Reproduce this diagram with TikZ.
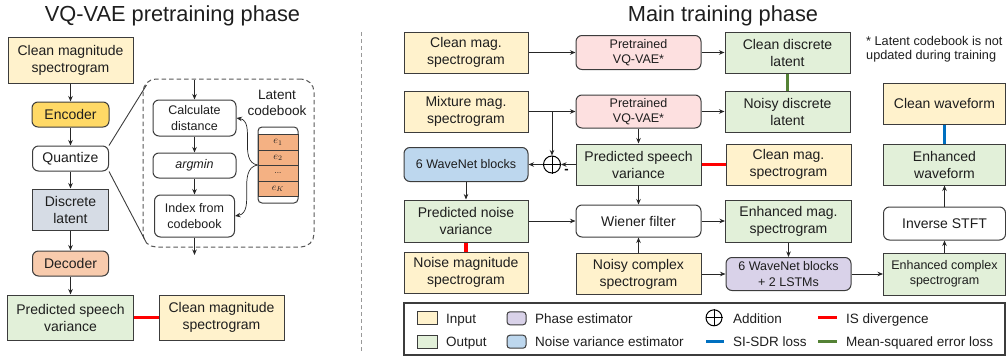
\documentclass[tikz,border=0pt]{standalone}
\usepackage{fontspec}
\setmainfont{Liberation Sans}
\usetikzlibrary{arrows.meta,calc}
\definecolor{cin}{HTML}{FFF2CC}
\definecolor{cout}{HTML}{E2F0D9}
\definecolor{cenc}{HTML}{FFD966}
\definecolor{clat}{HTML}{D6DCE5}
\definecolor{cdec}{HTML}{F8CBAD}
\definecolor{cpink}{HTML}{FDE0E0}
\definecolor{cblue}{HTML}{BDD7EE}
\definecolor{cpurp}{HTML}{D9D2E9}
\definecolor{ccell}{HTML}{F4B183}
\definecolor{cbord}{HTML}{3C3C3C}
\definecolor{lred}{HTML}{FF0000}
\definecolor{lblue}{HTML}{0070C0}
\definecolor{lgreen}{HTML}{548235}
\definecolor{ctext}{HTML}{1E1E1E}
\tikzset{
  box/.style={draw=cbord, line width=1pt, align=center, inner sep=0pt, text=ctext,
    font=\fontsize{14}{17}\selectfont},
  rbox/.style={box, rounded corners=6pt},
  small/.style={font=\fontsize{12.5}{15.5}\selectfont},
  sz/.style 2 args={minimum width=#1, minimum height=#2},
  arr/.style={-{Stealth[length=5.5pt,width=4.5pt]}, line width=0.8pt, draw=black!85},
  loss/.style={line width=3.6pt},
  legloss/.style={line width=3pt},
  cell/.style={draw=cbord, line width=1pt, fill=ccell, minimum width=40, minimum height=15.6,
    inner sep=0pt, text=ctext, font=\fontsize{10}{10}\selectfont},
  legtxt/.style={anchor=base west, inner sep=0pt, text=ctext, font=\fontsize{13.5}{15}\selectfont},
  title/.style={anchor=base, inner sep=0pt, text=ctext, font=\fontsize{21.8}{24}\selectfont},
}
\begin{document}
\begin{tikzpicture}[x=1pt,y=-1pt]
\useasboundingbox (0,0) rectangle (1006,359);
% titles
\node[title] (t1) at (172.5,21) {VQ-VAE pretraining phase};
\node[title] (t2) at (723,21) {Main training phase};
% separator
\coordinate (sepa) at (361,32);
\coordinate (sepb) at (361,353);
\draw[gray!80, line width=0.9pt, dash pattern=on 4pt off 3pt] (sepa) -- (sepb);

% ---------------- left panel ----------------
\node[box, fill=cin, sz={125}{46}] (lcms) at (70.5,60) {Clean magnitude\\spectrogram};
\node[rbox, fill=cenc, sz={77}{25}] (enc) at (70.5,114.5) {Encoder};
\node[rbox, fill=white, sz={76}{25}] (quant) at (70.5,158.5) {Quantize};
\node[box, fill=clat, sz={76}{41}] (dlat) at (70.5,209.5) {Discrete\\latent};
\node[rbox, fill=cdec, sz={76}{25}] (dec) at (70.5,263.5) {Decoder};
\node[box, fill=cout, sz={126}{45}] (lpsv) at (70.5,317.5) {Predicted speech\\variance};
\node[box, fill=cin, sz={125}{45}] (lcms2) at (221.5,317.5) {Clean magnitude\\spectrogram};
\draw[arr] (lcms) -- (enc);
\draw[arr] (enc) -- (quant);
\draw[arr] (quant) -- (dlat);
\draw[arr] (dlat) -- (dec);
\draw[arr] (dec) -- (lpsv);
\draw[loss, lred] (lpsv.east) -- (lcms2.west);

% zoomed quantizer
\node[draw=cbord!85, line width=1pt, dash pattern=on 4.5pt off 3pt, rounded corners=13pt,
  sz={171}{168}, inner sep=0pt] (zbox) at (228.5,163) {};
\coordinate (zt) at (146.5,85);
\coordinate (zb) at (145.5,241);
\draw[line width=0.9pt, cbord] (quant.north east) -- (zt);
\draw[line width=0.9pt, cbord] (quant.south east) -- (zb);
\coordinate (qin) at (194.5,80);
\coordinate (qout) at (194.5,255);
\node[rbox, small, fill=white, sz={83}{36}] (calc) at (194.5,118) {Calculate\\distance};
\node[rbox, small, fill=white, sz={83}{25}] (amin) at (194.5,165.5) {\itshape argmin};
\node[rbox, small, fill=white, sz={80}{42}] (idx) at (194.5,216) {Index from\\codebook};
\draw[arr] (qin) -- (calc);
\draw[arr] (calc) -- (amin);
\draw[arr] (amin) -- (idx);
\draw[arr] (idx) -- (qout);
\node[align=center, inner sep=0pt, text=ctext, font=\fontsize{13.6}{15.3}\selectfont] (cblab) at (277,103) {Latent\\codebook};
\node[draw=cbord, line width=1pt, rounded corners=4pt, fill=white, sz={40}{76}, inner sep=0pt] (cb) at (278,165) {};
\node[cell] (e1) at (278,142.2) {$e_1$};
\node[cell] (e2) at (278,157.8) {$e_2$};
\node[cell] (e3) at (278,173.3) {\fontsize{8}{8}\selectfont...};
\node[cell] (e4) at (278,188.8) {$e_K$};
\draw[arr, line width=0.7pt] (cb.west) to[out=170,in=-10] (calc.east);
\draw[arr, line width=0.7pt] (cb.west) to[out=190,in=10] (idx.east);

% ---------------- right panel ----------------
\node[box, fill=cin, sz={124}{41}] (cms) at (466,52.5) {Clean mag.\\spectrogram};
\node[rbox, small, fill=cpink, sz={125}{34}] (vq1) at (638.5,52.5) {Pretrained\\VQ-VAE*};
\node[box, fill=cout, sz={125}{41}] (cdl) at (787.5,52.5) {Clean discrete\\latent};
\node[box, fill=cin, sz={124}{41}] (mms) at (466,111.5) {Mixture mag.\\spectrogram};
\node[rbox, small, fill=cpink, sz={125}{33}] (vq2) at (638.5,111.5) {Pretrained\\VQ-VAE*};
\node[box, fill=cout, sz={125}{41}] (ndl) at (787.5,111.5) {Noisy discrete\\latent};
\node[rbox, small, fill=cblue, sz={124}{34}] (wn) at (466,164.5) {6 WaveNet blocks};
\node[circle, draw=black, line width=1pt, minimum size=17, inner sep=0pt] (add) at (552,164.5) {};
\draw[line width=1pt] (add.north) -- (add.south);
\draw[line width=1pt] (add.west) -- (add.east);
\node[inner sep=0pt, font=\bfseries\fontsize{13}{13}\selectfont] (minus) at (566.5,171) {-};
\node[box, fill=cout, sz={125}{41}] (psv) at (638.5,164.5) {Predicted speech\\variance};
\node[box, fill=cin, sz={125}{41}] (cms2) at (788.5,164.5) {Clean mag.\\spectrogram};
\node[box, fill=cout, sz={124}{42}] (pnv) at (466,221) {Predicted noise\\variance};
\node[rbox, fill=white, sz={125}{32}] (wf) at (638.5,221) {Wiener filter};
\node[box, fill=cout, sz={126}{42}] (ems) at (788.5,221) {Enhanced mag.\\spectrogram};
\node[box, fill=cin, sz={124}{41}] (nms) at (466,272.5) {Noise magnitude\\spectrogram};
\node[box, fill=cin, sz={125}{41}] (ncs) at (638.5,274) {Noisy complex\\spectrogram};
\node[rbox, small, fill=cpurp, sz={125}{33}] (wl) at (788.5,274) {6 WaveNet blocks\\+ 2 LSTMs};
\node[box, small, fill=cout, sz={122}{42}] (ecs) at (944.5,274) {Enhanced complex\\spectrogram};
\node[rbox, fill=white, sz={122}{33}] (istft) at (944.5,223.5) {Inverse STFT};
\node[box, fill=cout, sz={122}{41}] (ew) at (944.5,164.5) {Enhanced\\waveform};
\node[box, fill=cin, sz={122}{41}] (cw) at (944.5,103.5) {Clean waveform};
\node[anchor=west, align=left, inner sep=0pt, text=ctext, font=\fontsize{12.7}{14.5}\selectfont] (note) at (866,49) {* Latent codebook is not\\updated during training};

\draw[arr] (cms.east) -- (vq1.west);
\draw[arr] (vq1.east) -- (cdl.west);
\draw[arr] (mms.east) -- (vq2.west);
\draw[arr] (vq2.east) -- (ndl.west);
\coordinate (br) at (add |- mms.east);
\draw[arr] (br) -- (add.north);
\draw[arr] (vq2.south) -- (psv.north);
\draw[arr] (psv.west) -- (add.east);
\draw[arr] (add.west) -- (wn.east);
\draw[arr] (wn.south) -- (pnv.north);
\draw[arr] (pnv.east) -- (wf.west);
\draw[arr] (psv.south) -- (wf.north);
\draw[arr] (ncs.north) -- (wf.south);
\draw[arr] (wf.east) -- (ems.west);
\draw[arr] (ems.south) -- (wl.north);
\draw[arr] (ncs.east) -- (wl.west);
\draw[arr] (wl.east) -- (ecs.west);
\draw[arr] (ecs.north) -- (istft.south);
\draw[arr] (istft.north) -- (ew.south);
\draw[loss, lred] (psv.east) -- (cms2.west);
\draw[loss, lred] (pnv.south) -- (nms.north);
\draw[loss, lgreen] (cdl.south) -- (ndl.north);
\draw[loss, lblue] (ew.north) -- (cw.south);

% ---------------- legend ----------------
\node[draw=cbord, line width=1.1pt, sz={601}{52}, inner sep=0pt] (leg) at (704.5,329) {};
\node[box, fill=cin, sz={20}{13}] (lgin) at (427,318.3) {};
\node[box, fill=cout, sz={20}{13}] (lgout) at (427,341.7) {};
\node[box, rounded corners=3pt, fill=cpurp, sz={19}{13}] (lgph) at (516.5,318.3) {};
\node[box, rounded corners=3pt, fill=cblue, sz={19}{13}] (lgnv) at (516.5,341.7) {};
\node[circle, draw=black, line width=1pt, minimum size=16, inner sep=0pt] (lgadd) at (714,317.8) {};
\draw[line width=1pt] (lgadd.north) -- (lgadd.south);
\draw[line width=1pt] (lgadd.west) -- (lgadd.east);
\coordinate (lbA) at (706,341.7); \coordinate (lbB) at (724,341.7);
\coordinate (lrA) at (818,317.8); \coordinate (lrB) at (837,317.8);
\coordinate (lgA) at (818,341.7); \coordinate (lgB) at (837,341.7);
\draw[legloss, lblue] (lbA) -- (lbB);
\draw[legloss, lred] (lrA) -- (lrB);
\draw[legloss, lgreen] (lgA) -- (lgB);
\node[legtxt] (ltin) at (446,323) {Input};
\node[legtxt] (ltout) at (446,346.5) {Output};
\node[legtxt] (ltph) at (535,323) {Phase estimator};
\node[legtxt] (ltnv) at (535,346.5) {Noise variance estimator};
\node[legtxt] (ltadd) at (733,323) {Addition};
\node[legtxt] (ltsi) at (733,346.5) {SI-SDR loss};
\node[legtxt] (ltis) at (846,323) {IS divergence};
\node[legtxt] (ltmse) at (846,346.5) {Mean-squared error loss};
\end{tikzpicture}
\end{document}
